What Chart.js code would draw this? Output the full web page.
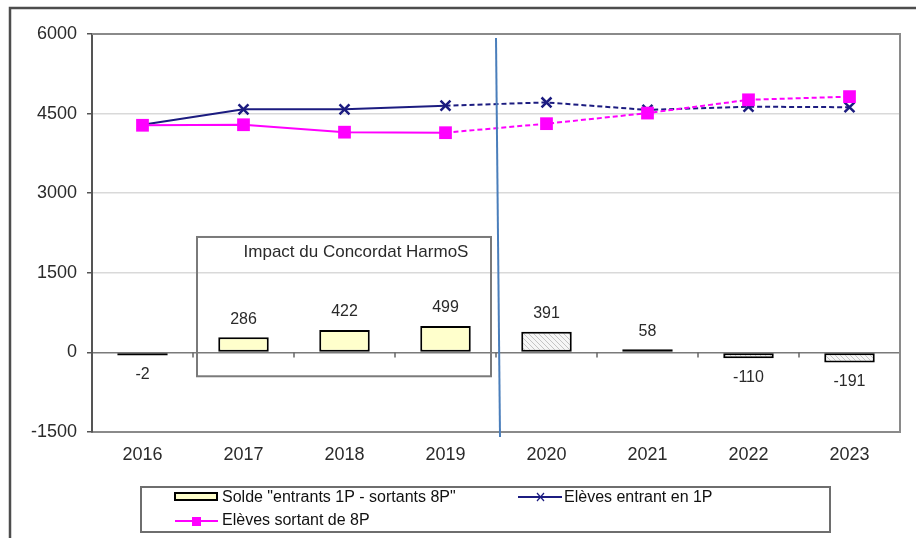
<!DOCTYPE html>
<html>
<head>
<meta charset="utf-8">
<script src="https://cdn.jsdelivr.net/npm/chart.js@4.4.1/dist/chart.umd.min.js"></script>
<style>
  html, body { margin: 0; padding: 0; background: #fff; }
  #wrap { width: 916px; height: 538px; }
</style>
</head>
<body>
<div id="wrap"><canvas id="chart" width="916" height="538"></canvas></div>
<script>
// --- Data ---
const years = ['2016', '2017', '2018', '2019', '2020', '2021', '2022', '2023'];
const solde = [-2, 286, 422, 499, 391, 58, -110, -191];
const entrants = [4290, 4580, 4580, 4650, 4710, 4570, 4630, 4620];
const sortants = [4280, 4290, 4150, 4140, 4310, 4510, 4760, 4820];
const yTicks = [-1500, 0, 1500, 3000, 4500, 6000];
const firstForecast = 4;   // 2020 onwards = projection (hatched bars, dashed lines)
const boxTitle = 'Impact du Concordat HarmoS';
const legendNames = ['Solde "entrants 1P - sortants 8P"', 'Elèves entrant en 1P', 'Elèves sortant de 8P'];

const FONT = '"Liberation Sans", Arial, sans-serif';
const NAVY = '#1c1c80';
const PINK = '#ff00ff';

// hatch pattern for projected bars
function makeHatch() {
    const c = document.createElement('canvas');
    c.width = 5; c.height = 5;
    const g = c.getContext('2d');
    g.fillStyle = '#f6f6f6';
    g.fillRect(0, 0, 5, 5);
    g.strokeStyle = '#c4c4c4';
    g.lineWidth = 1;
    g.beginPath();
    g.moveTo(0, 0); g.lineTo(5, 5);
    g.moveTo(-3, 2); g.lineTo(3, 8);
    g.moveTo(2, -3); g.lineTo(8, 3);
    g.stroke();
    return g.createPattern(c, 'repeat');
}
const hatch = makeHatch();

const dashFrom = (ctx) => ctx.p0DataIndex >= firstForecast - 1 ? [5, 3] : undefined;

// --- Extras: frames, box, separator, labels, legend ---
const extras = {
    id: 'extras',
    afterDatasetsDraw(chart) {
        const { ctx, chartArea: a, scales: { x, y } } = chart;
        const step = x.getPixelForValue(1) - x.getPixelForValue(0);
        ctx.save();

        // zero line ticks at category boundaries
        ctx.strokeStyle = '#666';
        ctx.lineWidth = 1.5;
        const y0 = y.getPixelForValue(0);
        for (let i = 1; i < years.length; i++) {
            const bx = x.getPixelForValue(i) - step / 2;
            ctx.beginPath(); ctx.moveTo(bx, y0); ctx.lineTo(bx, y0 + 5); ctx.stroke();
        }

        // plot frame top and right
        ctx.strokeStyle = '#8a8a8a';
        ctx.lineWidth = 2;
        ctx.beginPath();
        ctx.moveTo(a.left, a.top); ctx.lineTo(a.right, a.top); ctx.lineTo(a.right, a.bottom);
        ctx.stroke();

        // HarmoS box
        const bl = x.getPixelForValue(0) + step / 2 + 4;
        const br = x.getPixelForValue(3) + step / 2 - 5;
        const bt = y.getPixelForValue(2175);
        const bb = y.getPixelForValue(-450);
        ctx.strokeStyle = '#7a7a7a';
        ctx.lineWidth = 2;
        ctx.strokeRect(bl, bt, br - bl, bb - bt);
        ctx.fillStyle = '#2a2a2a';
        ctx.font = '17px ' + FONT;
        ctx.textAlign = 'center';
        ctx.textBaseline = 'middle';
        ctx.fillText(boxTitle, (bl + br) / 2 + 12, bt + 15);

        // bar value labels
        ctx.font = '16px ' + FONT;
        const bars = chart.getDatasetMeta(0).data;
        solde.forEach((v, i) => {
            const el = bars[i];
            const ty = v >= 0 ? Math.min(el.y, el.base) - 18 : Math.max(el.y, el.base) + 19;
            ctx.fillText(String(v), el.x, ty);
        });

        // separator between observed and projected years
        const sx = x.getPixelForValue(firstForecast - 1) + step / 2;
        ctx.strokeStyle = '#4a7ebb';
        ctx.lineWidth = 2;
        ctx.beginPath(); ctx.moveTo(sx, a.top + 4); ctx.lineTo(sx + 4, a.bottom + 5); ctx.stroke();

        // outer frame
        ctx.strokeStyle = '#4d4d4d';
        ctx.lineWidth = 2.5;
        ctx.strokeRect(10, 8, 930, 560);

        // legend
        ctx.strokeStyle = '#6e6e6e';
        ctx.lineWidth = 2;
        ctx.strokeRect(141, 487, 689, 45);
        ctx.font = '16px ' + FONT;
        ctx.textAlign = 'left';
        // bar swatch
        ctx.fillStyle = '#ffffcc';
        ctx.fillRect(175, 493, 42, 7);
        ctx.strokeStyle = '#000';
        ctx.lineWidth = 2;
        ctx.strokeRect(175, 493, 42, 7);
        ctx.fillStyle = '#111';
        ctx.fillText(legendNames[0], 222, 498);
        // navy line + cross
        ctx.strokeStyle = NAVY;
        ctx.lineWidth = 2;
        ctx.beginPath(); ctx.moveTo(518, 497); ctx.lineTo(562, 497); ctx.stroke();
        ctx.lineWidth = 1.2;
        ctx.beginPath();
        ctx.moveTo(537, 493); ctx.lineTo(544, 501);
        ctx.moveTo(544, 493); ctx.lineTo(537, 501);
        ctx.stroke();
        ctx.fillText(legendNames[1], 564, 498);
        // pink line + square
        ctx.strokeStyle = PINK;
        ctx.lineWidth = 2;
        ctx.beginPath(); ctx.moveTo(175, 521); ctx.lineTo(218, 521); ctx.stroke();
        ctx.fillStyle = PINK;
        ctx.fillRect(192, 517, 9, 9);
        ctx.fillStyle = '#111';
        ctx.fillText(legendNames[2], 222, 521);

        ctx.restore();
    }
};

new Chart(document.getElementById('chart'), {
    data: {
        labels: years,
        datasets: [
            {
                type: 'bar',
                label: legendNames[0],
                data: solde,
                backgroundColor: solde.map((v, i) => i >= firstForecast ? hatch : '#ffffcc'),
                borderColor: '#000',
                borderWidth: 2,
                borderSkipped: false,
                minBarLength: 3,
                categoryPercentage: 1,
                barPercentage: 0.5,
                order: 2
            },
            {
                type: 'line',
                label: legendNames[1],
                data: entrants,
                borderColor: NAVY,
                backgroundColor: NAVY,
                borderWidth: 2,
                pointStyle: 'crossRot',
                pointRadius: 7,
                pointBorderWidth: 2.5,
                segment: { borderDash: dashFrom },
                order: 1
            },
            {
                type: 'line',
                label: legendNames[2],
                data: sortants,
                borderColor: PINK,
                backgroundColor: PINK,
                borderWidth: 2,
                pointStyle: 'rect',
                pointRadius: 9,
                pointBorderWidth: 0,
                segment: { borderDash: dashFrom },
                order: 0
            }
        ]
    },
    options: {
        responsive: false,
        animation: false,
        layout: { padding: { top: 34, right: 16, left: 0, bottom: 0 } },
        plugins: {
            legend: { display: false },
            tooltip: { enabled: false }
        },
        scales: {
            x: {
                offset: true,
                grid: { display: false, drawTicks: false },
                border: { display: true, color: '#8a8a8a', width: 2 },
                ticks: { color: '#2a2a2a', font: { size: 18, family: FONT }, padding: 12 },
                afterFit: (s) => { s.height = 106; }
            },
            y: {
                min: -1500,
                max: 6000,
                afterBuildTicks: (s) => { s.ticks = yTicks.map(v => ({ value: v })); },
                grid: {
                    color: (c) => {
                        const v = c.tick && c.tick.value;
                        if (v === 0) return '#7a7a7a';
                        if (v === -1500 || v === 6000) return 'rgba(0,0,0,0)';
                        return '#d9d9d9';
                    },
                    lineWidth: 1.5,
                    tickColor: '#555',
                    tickLength: 5
                },
                border: { display: true, color: '#555', width: 2 },
                ticks: {
                    color: '#2a2a2a',
                    font: { size: 18, family: FONT },
                    padding: 10,
                    callback: (v) => String(v)
                },
                afterFit: (s) => { s.width = 92; }
            }
        }
    },
    plugins: [extras]
});
</script>
</body>
</html>
